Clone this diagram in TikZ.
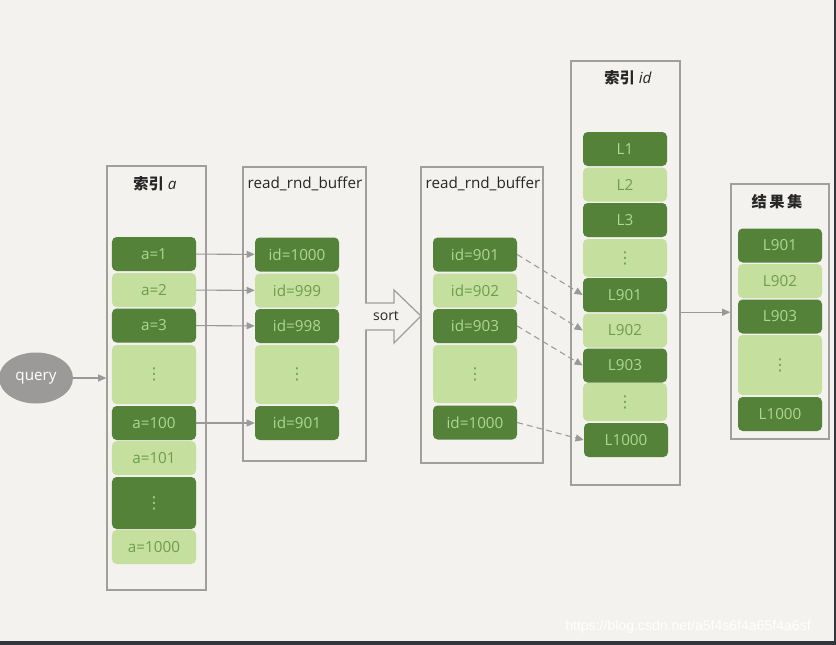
\documentclass[tikz,border=0pt]{standalone}
\usepackage{fontspec}
\setmainfont{Open Sans}
\newfontfamily\cjk{Noto Sans CJK SC}
\newfontfamily\urlfont{Liberation Sans}
\newfontfamily\dotfont{DejaVu Sans}
\usetikzlibrary{positioning, arrows.meta, shapes.geometric}

\definecolor{paper}{HTML}{F3F2EE}
\definecolor{darkleaf}{HTML}{548239}
\definecolor{lightleaf}{HTML}{C5DF9E}
\definecolor{inkdark}{HTML}{B0D694}
\definecolor{inklight}{HTML}{6E9C4E}
\definecolor{framegray}{HTML}{A09F9C}
\definecolor{wiregray}{HTML}{999999}
\definecolor{querygray}{HTML}{9B9A98}
\definecolor{edgedark}{HTML}{30363A}

\newcommand{\vdotsign}{{\dotfont\fontsize{14}{16}\selectfont ⋮}}

\begin{document}
\begin{tikzpicture}[x=0.03cm, y=-0.03cm,
        frame/.style={draw=framegray, line width=1.1pt, inner sep=0pt},
        title/.style={font=\fontsize{13}{15}\selectfont, text=black!85},
        cell/.style={rounded corners=4pt, minimum width=2.52cm, minimum height=1.02cm,
            inner sep=0pt, font=\fontsize{13}{15}\selectfont},
        dk/.style={cell, fill=darkleaf, text=inkdark},
        lt/.style={cell, fill=lightleaf, text=inklight},
        wire/.style={draw=wiregray, line width=0.9pt, -{Triangle[length=7pt,width=6pt]}},
        dashwire/.style={wire, dash pattern=on 5pt off 3.5pt}]
    % canvas
    \fill[paper] (0,0) rectangle (836,645);
    \useasboundingbox (0,0) rectangle (836,645);
    \fill[edgedark] (0,641) rectangle (836,645);
    \fill[edgedark] (834,0) rectangle (836,645);

    % frames
    \node[frame, minimum width=2.97cm, minimum height=12.72cm] (colA) at (156.5,378) {};
    \node[frame, minimum width=3.69cm, minimum height=8.82cm] (colB) at (304.5,314) {};
    \node[frame, minimum width=3.66cm, minimum height=8.88cm] (colC) at (482,315) {};
    \node[frame, minimum width=3.27cm, minimum height=12.72cm] (colD) at (625.5,273) {};
    \node[frame, minimum width=2.94cm, minimum height=7.65cm] (colE) at (780,311.5) {};

    \node[title] (titleA) at (155,184) {{\cjk\bfseries 索引} \textit{a}};
    \node[title] (titleB) at (305,184) {read\_rnd\_buffer};
    \node[title] (titleC) at (483,184) {read\_rnd\_buffer};
    \node[title] (titleD) at (628,78) {{\cjk\bfseries 索引} \textit{id}};
    \node[title] (titleE) at (777,202) {\cjk\bfseries 结\,果\,集};

    % index a
    \node[dk] (a1) at (154,254) {a=1};
    \node[lt] (a2) at (154,290) {a=2};
    \node[dk] (a3) at (154,325.5) {a=3};
    \node[lt, minimum height=1.77cm] (a4) at (154,374.5) {\vdotsign};
    \node[dk] (a5) at (154,423) {a=100};
    \node[lt] (a6) at (154,458) {a=101};
    \node[dk, minimum height=1.56cm] (a7) at (154,503) {\vdotsign};
    \node[lt] (a8) at (154,547) {a=1000};

    % first buffer
    \node[dk] (b1) at (297,254.5) {id=1000};
    \node[lt] (b2) at (297,290.5) {id=999};
    \node[dk] (b3) at (297,326) {id=998};
    \node[lt, minimum height=1.77cm] (b4) at (297,374.5) {\vdotsign};
    \node[dk] (b5) at (297,423) {id=901};

    % sorted buffer
    \node[dk] (c1) at (475,254.5) {id=901};
    \node[lt] (c2) at (475,290.5) {id=902};
    \node[dk] (c3) at (475,326) {id=903};
    \node[lt, minimum height=1.74cm] (c4) at (475,374) {\vdotsign};
    \node[dk] (c5) at (475,422.5) {id=1000};

    % index id
    \node[dk] (d1) at (625,149) {L1};
    \node[lt] (d2) at (625,184.5) {L2};
    \node[dk] (d3) at (625,220) {L3};
    \node[lt, minimum height=1.14cm] (d4) at (625,258) {\vdotsign};
    \node[dk] (d5) at (625,295) {L901};
    \node[lt] (d6) at (625,330.5) {L902};
    \node[dk] (d7) at (625,365.5) {L903};
    \node[lt, minimum height=1.14cm] (d8) at (625,402) {\vdotsign};
    \node[dk] (d9) at (626,440) {L1000};

    % result set
    \node[dk] (e1) at (780,245.5) {L901};
    \node[lt] (e2) at (780,281) {L902};
    \node[dk] (e3) at (780,316.5) {L903};
    \node[lt, minimum height=1.8cm] (e4) at (780,365) {\vdotsign};
    \node[dk] (e5) at (780,414) {L1000};

    % query
    \node[ellipse, fill=querygray, text=white, minimum width=2.22cm, minimum height=1.53cm,
        inner sep=0pt, font=\fontsize{13}{15}\selectfont] (query) at (36,378) {query};
    \draw[wire] (query) -- (colA);

    % a -> id
    \draw[wire] (a1) -- (b1);
    \draw[wire] (a2) -- (b2);
    \draw[wire] (a3) -- (b3);
    \draw[wire] (a5) -- (b5);

    % sort
    \draw[draw=framegray, line width=1.1pt, fill=paper, line join=miter]
        (365,303) -- (394,303) -- (394,290) -- (421,316) -- (394,343) -- (394,330) -- (365,330);
    \node[font=\fontsize{12}{14}\selectfont, text=black!85] (sort) at (386,316) {sort};

    % lookups
    \draw[dashwire] (c1.east) -- (d5.west);
    \draw[dashwire] (c2.east) -- (d6.west);
    \draw[dashwire] (c3.east) -- (d7.west);
    \draw[dashwire] (c5.east) -- (d9.west);

    \draw[wire] (colD.east |- d5.south) -- (colE.west |- d5.south);

    \node[font=\urlfont\fontsize{12}{14}\selectfont, text=white] (wm) at (688,627)
        {https://blog.csdn.net/a5f4s6f4a65f4a6sf};
\end{tikzpicture}
\end{document}
